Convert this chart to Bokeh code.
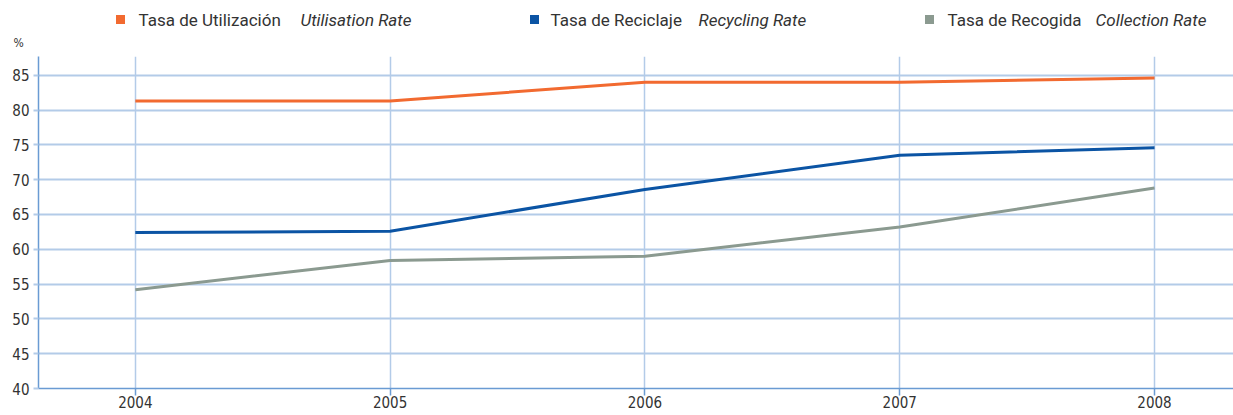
from bokeh.plotting import figure
from bokeh.layouts import column
from bokeh.models import FixedTicker, Range1d
from bokeh.core.properties import value
from bokeh.embed import file_html
from bokeh.resources import INLINE

# ---- data ----
years = [2004, 2005, 2006, 2007, 2008]
utilisation = [81.3, 81.3, 84.0, 84.0, 84.6]
recycling = [62.4, 62.6, 68.6, 73.5, 74.6]
collection = [54.2, 58.4, 59.0, 63.2, 68.8]
y_ticks = [40, 45, 50, 55, 60, 65, 70, 75, 80, 85]
series_es = ["Tasa de Utilización", "Tasa de Reciclaje", "Tasa de Recogida"]
series_en = ["Utilisation Rate", "Recycling Rate", "Collection Rate"]
colors = ["#f26a30", "#0b54a4", "#8b9a90"]
unit_label = "%"

FONT = "DejaVu Sans Condensed"
FONT2 = "Roboto"
TXT = "#333333"
GRID = "#b3cbe8"
AXIS = "#6a9bd3"

W = 1233
LEFT = 38
HEAD_H = 30
FRAME_TOP = 56

# ---- header (legend); its frame is aligned with the main frame ----
h = figure(width=W, height=HEAD_H, output_backend="svg", toolbar_location=None,
           x_range=Range1d(LEFT, W), y_range=Range1d(HEAD_H, 0),
           min_border=0, min_border_left=LEFT, x_axis_type=None, y_axis_type=None)
h.outline_line_color = None
h.xgrid.visible = False
h.ygrid.visible = False
marker_x = [120, 534, 929]
es_x = [138, 550, 947]
en_x = [300, 698, 1095]
leg_y = [19, 19, 19]
h.scatter(marker_x, leg_y, marker="square", size=9, color=colors, line_color=None)
h.text(es_x, leg_y, text=series_es, text_color=TXT, text_font=value(FONT2), text_font_size="17px",
       text_align="left", text_baseline="middle")
h.text(en_x, leg_y, text=series_en, text_color=TXT, text_font=value(FONT2), text_font_size="17px",
       text_font_style="italic", text_align="left", text_baseline="middle")

# ---- main chart ----
p = figure(frame_width=W - LEFT, frame_height=332, output_backend="svg", toolbar_location=None,
           x_range=Range1d(2003.62, 2008.31), y_range=Range1d(40, 87.7),
           min_border_left=LEFT, min_border_right=0, min_border_top=FRAME_TOP - HEAD_H,
           min_border_bottom=22)
p.outline_line_color = None
p.title.text = unit_label
p.title.align = "left"
p.title.vertical_align = "top"
p.title.offset = -25
p.title.standoff = 9
p.title.text_font = FONT
p.title.text_font_size = "12px"
p.title.text_font_style = "normal"
p.title.text_color = TXT

for vals, c in zip([utilisation, recycling, collection], colors):
    p.line(years, vals, line_color=c, line_width=3)

p.xaxis.ticker = FixedTicker(ticks=years)
p.yaxis.ticker = FixedTicker(ticks=y_ticks)
for ax in (p.xaxis, p.yaxis):
    ax.axis_line_color = AXIS
    ax.axis_line_width = 1.5
    ax.major_tick_in = 0
    ax.minor_tick_line_color = None
    ax.major_label_text_font = FONT
    ax.major_label_text_font_size = "15px"
    ax.major_label_text_color = TXT
p.xaxis.major_tick_out = 7
p.xaxis.major_tick_line_color = AXIS
p.xaxis.major_tick_line_width = 1.5
p.xaxis.major_label_standoff = 0
p.yaxis.major_tick_out = 5
p.yaxis.major_tick_line_color = GRID
p.yaxis.major_tick_line_width = 2
p.yaxis.major_label_standoff = 4

p.xgrid.grid_line_color = GRID
p.xgrid.grid_line_width = 1.5
p.ygrid.grid_line_color = GRID
p.ygrid.grid_line_width = 2

open("out.html", "w").write(file_html(column(h, p, spacing=0), INLINE))
